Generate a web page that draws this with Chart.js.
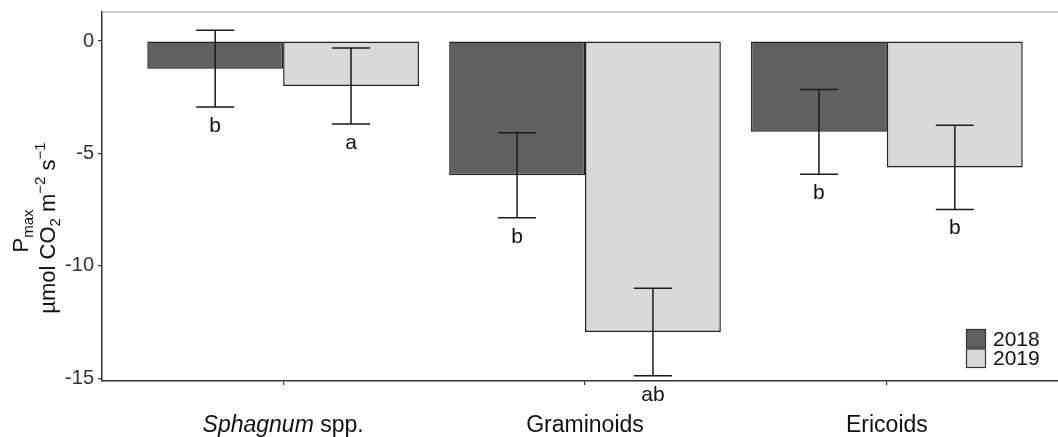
<!DOCTYPE html>
<html>
<head>
<meta charset="utf-8">
<script src="https://cdn.jsdelivr.net/npm/chart.js@4.4.1/dist/chart.umd.min.js"></script>
<style>
    html, body { margin: 0; padding: 0; background: #fff; overflow: hidden; }
    #wrap { position: relative; width: 1090px; height: 437px; }
</style>
</head>
<body>
<div id="wrap"><canvas id="chart-pmax"></canvas></div>
<script>
// ===== 데이터 =====
const categories = ['Sphagnum spp.', 'Graminoids', 'Ericoids'];
const italicParts = ['Sphagnum', '', ''];
const years = ['2018', '2019'];
const pmax2018 = [-1.23, -5.97, -4.04];
const pmax2019 = [-2.00, -12.94, -5.62];
const se2018 = [1.71, 1.89, 1.88];
const se2019 = [1.69, 1.95, 1.87];
const letters2018 = ['b', 'b', 'b'];
const letters2019 = ['a', 'ab', 'b'];
const yTicks = [0, -5, -10, -15];

const FONT = "'Liberation Sans', Arial, Helvetica, sans-serif";
const barColors = ['#606060', '#d9d9d9'];

function toPoints(values) {
    return values.map(function (v, i) { return { x: i, y: v }; });
}

// 텍스트 조각(이탤릭/첨자)을 이어서 그림
function drawRich(ctx, parts, x, y, angle) {
    ctx.save();
    ctx.translate(x, y);
    if (angle) ctx.rotate(angle);
    ctx.textAlign = 'left';
    ctx.textBaseline = 'alphabetic';
    let total = 0;
    parts.forEach(function (p) {
        ctx.font = (p.italic ? 'italic ' : '') + p.size + 'px ' + FONT;
        p.w = ctx.measureText(p.text).width;
        total += p.w;
    });
    let cx = -total / 2;
    parts.forEach(function (p) {
        ctx.font = (p.italic ? 'italic ' : '') + p.size + 'px ' + FONT;
        ctx.fillStyle = p.color || '#111';
        ctx.fillText(p.text, cx, p.dy || 0);
        cx += p.w;
    });
    ctx.restore();
}

// ===== 오차막대, 유의성 문자, 축 제목, 범례 =====
const decorPlugin = {
    id: 'decor',
    afterDatasetsDraw: function (chart) {
        const ctx = chart.ctx;
        const yScale = chart.scales.y;
        const area = chart.chartArea;

        // 위쪽 테두리
        ctx.save();
        ctx.strokeStyle = '#a0a0a0';
        ctx.lineWidth = 1.2;
        ctx.beginPath();
        ctx.moveTo(area.left, area.top);
        ctx.lineTo(area.right, area.top);
        ctx.stroke();
        ctx.restore();

        chart.data.datasets.forEach(function (ds, di) {
            const meta = chart.getDatasetMeta(di);
            meta.data.forEach(function (bar, i) {
                const mean = ds.data[i].y;
                const se = ds.se[i];
                const yTop = yScale.getPixelForValue(mean + se);
                const yBot = yScale.getPixelForValue(mean - se);
                const half = 19;
                ctx.save();
                ctx.strokeStyle = '#1a1a1a';
                ctx.lineWidth = 1.5;
                ctx.beginPath();
                ctx.moveTo(bar.x, yTop); ctx.lineTo(bar.x, yBot);
                ctx.moveTo(bar.x - half, yTop); ctx.lineTo(bar.x + half, yTop);
                ctx.moveTo(bar.x - half, yBot); ctx.lineTo(bar.x + half, yBot);
                ctx.stroke();

                ctx.fillStyle = '#111';
                ctx.font = '21px ' + FONT;
                ctx.textAlign = 'center';
                ctx.textBaseline = 'alphabetic';
                ctx.fillText(ds.letters[i], bar.x, yBot + 25);
                ctx.restore();
            });
        });
    },
    afterDraw: function (chart) {
        const ctx = chart.ctx;
        const xScale = chart.scales.x;

        // x축 라벨 (속명은 이탤릭)
        categories.forEach(function (c, i) {
            const it = italicParts[i];
            const parts = [];
            if (it) parts.push({ text: it, size: 23, italic: true });
            parts.push({ text: it ? c.slice(it.length) : c, size: 23 });
            drawRich(ctx, parts, xScale.getPixelForValue(i), 432, 0);
        });

        // y축 제목 (2줄)
        drawRich(ctx, [
            { text: 'P', size: 22 },
            { text: 'max', size: 15, dy: 5 }
        ], 28, 231, -Math.PI / 2);
        drawRich(ctx, [
            { text: '\u00b5mol CO', size: 22 },
            { text: '2', size: 15, dy: 5 },
            { text: ' m', size: 22 },
            { text: '\u22122', size: 15, dy: -10 },
            { text: ' s', size: 22 },
            { text: '\u22121', size: 15, dy: -10 }
        ], 55, 228, -Math.PI / 2);

        // 범례
        const lx = 966, ly = 329, kw = 20, kh = 19.5;
        chart.data.datasets.forEach(function (ds, di) {
            const y0 = ly + di * kh;
            ctx.save();
            ctx.fillStyle = ds.backgroundColor;
            ctx.fillRect(lx, y0, kw, kh);
            ctx.strokeStyle = '#333';
            ctx.lineWidth = 1.2;
            ctx.strokeRect(lx + 0.5, y0 + 0.5, kw - 1, kh - 1);
            ctx.fillStyle = '#111';
            ctx.font = '21px ' + FONT;
            ctx.textAlign = 'left';
            ctx.textBaseline = 'middle';
            ctx.fillText(ds.label, lx + 27, y0 + kh / 2 + 1);
            ctx.restore();
        });
    }
};

const ctx = document.getElementById('chart-pmax');
const chart = new Chart(ctx, {
    type: 'bar',
    data: {
        datasets: [
            {
                label: years[0], data: toPoints(pmax2018), se: se2018, letters: letters2018,
                backgroundColor: barColors[0], borderColor: '#222', borderWidth: 1.5, borderSkipped: false
            },
            {
                label: years[1], data: toPoints(pmax2019), se: se2019, letters: letters2019,
                backgroundColor: barColors[1], borderColor: '#222', borderWidth: 1.5, borderSkipped: false
            }
        ]
    },
    options: {
        responsive: true,
        maintainAspectRatio: false,
        animation: false,
        datasets: { bar: { categoryPercentage: 0.9, barPercentage: 1 } },
        layout: { padding: { top: 12, right: 22, left: 0, bottom: 0 } },
        plugins: { legend: { display: false }, tooltip: { enabled: false } },
        scales: {
            x: {
                type: 'linear',
                offset: false,
                min: -0.6,
                max: 2.6,
                afterBuildTicks: function (s) { s.ticks = categories.map(function (c, i) { return { value: i }; }); },
                afterFit: function (s) { s.height = 56; s.paddingLeft = 0; s.paddingRight = 0; },
                ticks: { display: false },
                grid: { display: true, offset: false, drawOnChartArea: false, tickLength: 4, color: '#333', lineWidth: 1.2 },
                border: { display: true, color: '#333', width: 1.5 }
            },
            y: {
                min: -15.12,
                max: 1.29,
                afterBuildTicks: function (s) { s.ticks = yTicks.map(function (v) { return { value: v }; }); },
                afterFit: function (s) { s.width = 102; s.paddingTop = 0; s.paddingBottom = 0; },
                ticks: { font: { family: FONT, size: 20 }, color: '#333', padding: 4 },
                grid: { display: true, drawOnChartArea: false, tickLength: 4, color: '#333', lineWidth: 1.2 },
                border: { display: true, color: '#333', width: 1.5 }
            }
        }
    },
    plugins: [decorPlugin]
});
</script>
</body>
</html>
